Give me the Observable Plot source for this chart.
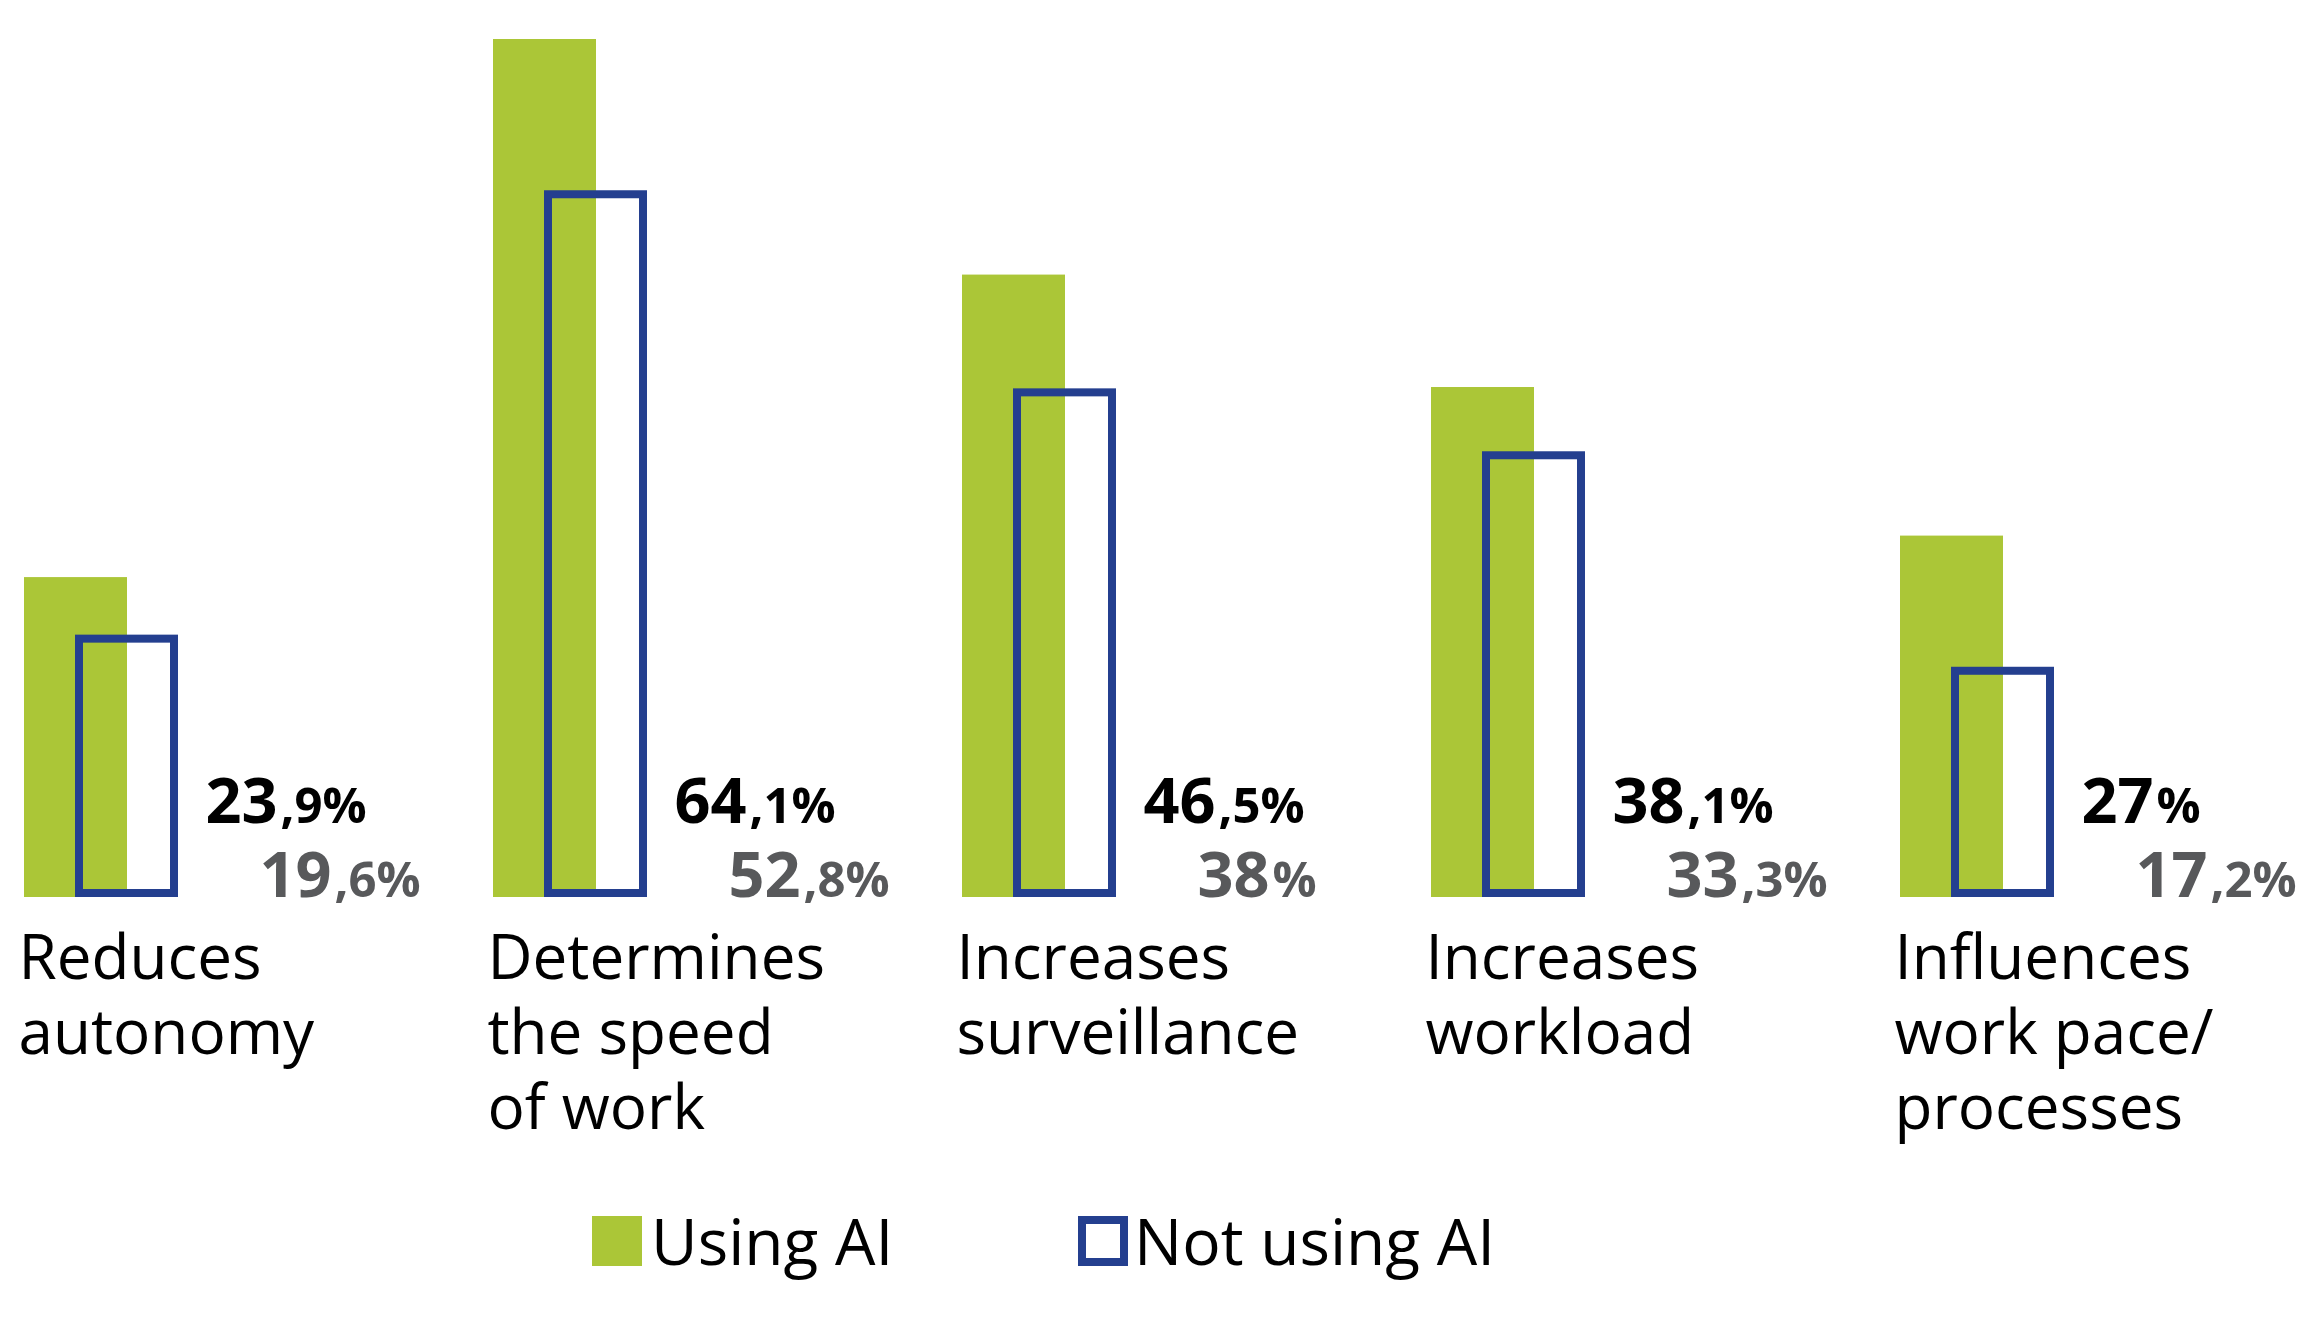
<!DOCTYPE html>
<html><head><meta charset="utf-8">
<script src="https://cdn.jsdelivr.net/npm/d3@7"></script>
<script src="https://cdn.jsdelivr.net/npm/@observablehq/plot@0.6"></script>
<style>
html,body{margin:0;padding:0;background:#fff;overflow:hidden;}
#legend{position:relative;height:148px;width:2303px;font-family:"Open Sans",sans-serif;color:#000;}
#legend .sw{position:absolute;top:26px;width:50px;height:50px;box-sizing:border-box;}
#legend .lb{position:absolute;top:19px;font-size:64px;line-height:64px;white-space:nowrap;}
</style></head><body>
<div id="chart"></div>
<div id="legend"></div>
<script>
const categories = ["Reduces autonomy", "Determines the speed of work", "Increases surveillance", "Increases workload", "Influences work pace/ processes"];
const labelLines = [["Reduces","autonomy"],["Determines","the speed","of work"],["Increases","surveillance"],["Increases","workload"],["Influences","work pace/","processes"]];
const usingAI = [23.9, 64.1, 46.5, 38.1, 27];
const notUsingAI = [19.6, 52.8, 38, 33.3, 17.2];
const seriesNames = ["Using AI", "Not using AI"];
const colors = ["#abc637", "#243f8f"];

function parts(v){ const s = String(v).split("."); return {int: s[0], rest: (s[1] ? "," + s[1] : "") + "%"}; }

const rows = categories.map((c,i)=>({cat:c, using:usingAI[i], not:notUsingAI[i], label: labelLines[i].join("\n")}));

const chart = Plot.plot({
  width: 2303, height: 1190,
  marginTop: 39, marginBottom: 293, marginLeft: 0, marginRight: 0,
  x: {domain: categories, range: [24, 2054], paddingInner: 315/469, paddingOuter: 0, axis: null},
  y: {domain: [0, 64.1], axis: null},
  style: {fontFamily: "'Open Sans', sans-serif", background: "white", overflow: "visible"},
  marks: [
    Plot.barY(rows, {x:"cat", y:"using", fill: colors[0], insetRight: 51}),
    Plot.barY(rows, {x:"cat", y:"not", fill:"none", stroke: colors[1], strokeWidth: 8, insetLeft: 55, insetRight: 4, insetTop: 4, insetBottom: 4}),
    Plot.text(rows, {x:"cat", text: d=>parts(d.using).int, frameAnchor:"bottom", textAnchor:"end", lineAnchor:"bottom", dx:176, dy:-75, fontSize:63, fontWeight:700, fill:"#000"}),
    Plot.text(rows, {x:"cat", text: d=>parts(d.using).rest, frameAnchor:"bottom", textAnchor:"start", lineAnchor:"bottom", dx:179, dy:-75, fontSize:49, fontWeight:700, fill:"#000"}),
    Plot.text(rows, {x:"cat", text: d=>parts(d.not).int, frameAnchor:"bottom", textAnchor:"end", lineAnchor:"bottom", dx:230, dy:-1, fontSize:63, fontWeight:700, fill:"#58595b"}),
    Plot.text(rows, {x:"cat", text: d=>parts(d.not).rest, frameAnchor:"bottom", textAnchor:"start", lineAnchor:"bottom", dx:233, dy:-1, fontSize:49, fontWeight:700, fill:"#58595b"}),
    Plot.text(rows, {x:"cat", text:"label", frameAnchor:"bottom", textAnchor:"start", lineAnchor:"top", lineHeight: 75/62, dx:-83, dy:28, fontSize:62, fill:"#000"})
  ]
});
document.getElementById("chart").appendChild(chart);

const legend = document.getElementById("legend");
const swLeft = [592, 1078], lbLeft = [651, 1134];
seriesNames.forEach((name, i) => {
  const sw = document.createElement("div");
  sw.className = "sw";
  sw.style.left = swLeft[i] + "px";
  if (i === 0) sw.style.background = colors[0];
  else { sw.style.border = "8px solid " + colors[1]; sw.style.background = "#fff"; }
  legend.appendChild(sw);
  const lb = document.createElement("div");
  lb.className = "lb";
  lb.style.left = lbLeft[i] + "px";
  lb.textContent = name;
  legend.appendChild(lb);
});
</script>
</body></html>
